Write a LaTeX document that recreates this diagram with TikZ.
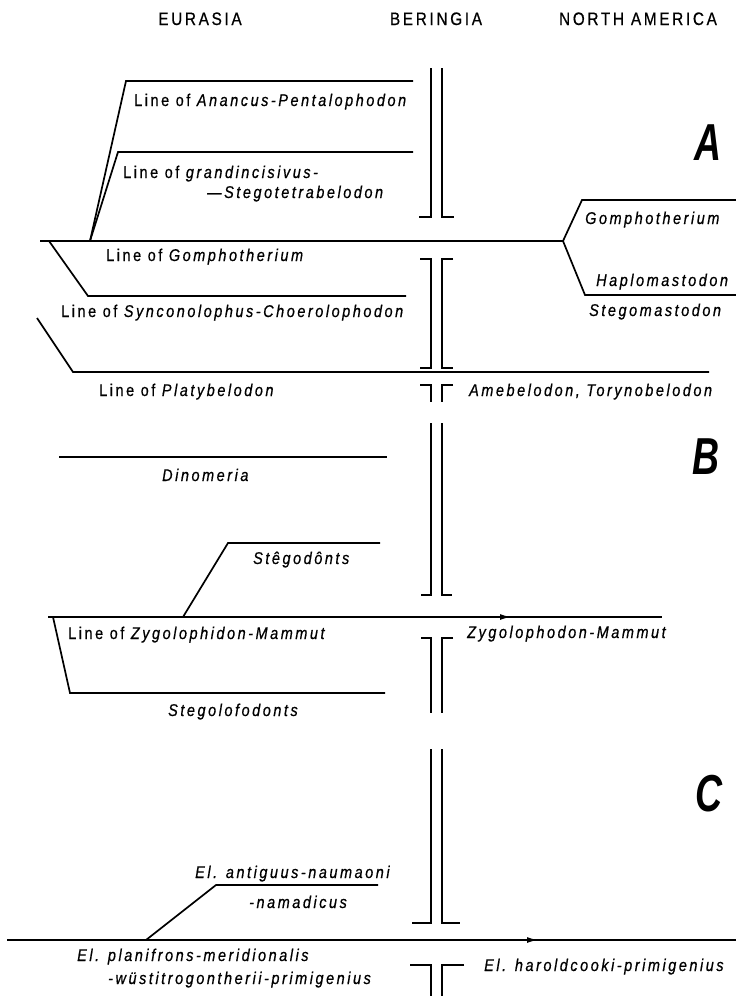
\documentclass[tikz,border=0pt]{standalone}
\usepackage{fontspec}
\setmainfont{Liberation Sans}[FakeStretch=0.85,LetterSpace=15,FakeBold=0.6]
\newfontfamily\bigfont{Liberation Sans}[FakeStretch=0.72]
\usetikzlibrary{arrows.meta}
\begin{document}
\begin{tikzpicture}[x=1pt,y=-1pt,
  ln/.style={line width=1.7pt},
  mig/.style={line width=1.7pt,-{Latex[length=11pt,width=6pt]}},
  txt/.style={inner sep=0pt,anchor=base west,font=\fontsize{17}{20}\selectfont},
  hdr/.style={inner sep=0pt,anchor=base,font=\fontsize{18}{21}\selectfont},
  big/.style={inner sep=0pt,anchor=base,font=\bigfont\fontsize{52}{58}\selectfont\bfseries\itshape}]
\useasboundingbox (0,0) rectangle (736,996);
\fill[white] (0,0) rectangle (736,996);

% headers
\node[hdr] (hE) at (200,25) {EURASIA};
\node[hdr] (hB) at (436,25) {BERINGIA};
\node[hdr] (hN) at (638,25) {NORTH AMERICA};
\node[big] (lA) at (708,160) {A};
\node[big] (lB) at (706,474) {B};
\node[big] (lC) at (709,811) {C};

% ---------- A ----------
\coordinate (g0) at (40,241);
\coordinate (gj) at (90,241);
\coordinate (g1) at (563,241);
\coordinate (an0) at (126,81);  \coordinate (an1) at (413,81);
\coordinate (gr0) at (118,152); \coordinate (gr1) at (413,152);
\draw[ln] (gj) -- (an0) -- (an1);
\draw[ln] (gj) -- (gr0) -- (gr1);
\draw[ln] (g0) -- (g1);
\coordinate (nu0) at (582,200); \coordinate (nu1) at (736,200);
\coordinate (nd0) at (585,295); \coordinate (nd1) at (736,295);
\draw[ln] (g1) -- (nu0) -- (nu1);
\draw[ln] (g1) -- (nd0) -- (nd1);
\coordinate (gs) at (49,241);
\coordinate (gl0) at (88,296); \coordinate (gl1) at (406,296);
\draw[ln] (gs) -- (gl0) -- (gl1);

\node[txt] (tAn) at (134,106) {Line of \textit{Anancus-Pentalophodon}};
\node[txt] (tGr) at (123,178) {Line of \textit{grandincisivus-}};
\node[txt] (tSt) at (207,198) {\textit{—Stegotetrabelodon}};
\node[txt] (tGN) at (585,224) {\textit{Gomphotherium}};
\node[txt] (tGo) at (106,261) {Line of \textit{Gomphotherium}};
\node[txt] (tHa) at (596,286) {\textit{Haplomastodon}};
\node[txt] (tSy) at (61,317) {Line of \textit{Synconolophus-Choerolophodon}};
\node[txt] (tSm) at (589,316) {\textit{Stegomastodon}};

% Synconolophus / Platybelodon
\coordinate (s0) at (37,318); \coordinate (s1) at (73,372); \coordinate (s2) at (709,372);
\draw[ln] (s0) -- (s1) -- (s2);
\node[txt] (tPl) at (99,396) {Line of \textit{Platybelodon}};
\node[txt] (tAm) at (469,396) {\textit{Amebelodon, Torynobelodon}};

% ---------- B ----------
\coordinate (d0) at (59,457); \coordinate (d1) at (387,457);
\draw[ln] (d0) -- (d1);
\node[txt] (tDi) at (162,481) {\textit{Dinomeria}};

\coordinate (z0) at (48,617); \coordinate (za) at (497,617); \coordinate (zm) at (511,617); \coordinate (z1) at (662,617);
\draw[ln] (z0) -- (z1);
\draw[mig] (za) -- (zm);
\coordinate (sd0) at (183,617); \coordinate (sd1) at (228,543); \coordinate (sd2) at (380,543);
\draw[ln] (sd0) -- (sd1) -- (sd2);
\node[txt] (tSd) at (253,564) {\textit{Stêgodônts}};
\coordinate (zl0) at (53,617); \coordinate (zl1) at (70,693); \coordinate (zl2) at (385,693);
\draw[ln] (zl0) -- (zl1) -- (zl2);
\node[txt] (tZy) at (68,639) {Line of \textit{Zygolophidon-Mammut}};
\node[txt] (tZN) at (467,638) {\textit{Zygolophodon-Mammut}};
\node[txt] (tSl) at (168,716) {\textit{Stegolofodonts}};

% ---------- C ----------
\coordinate (e0) at (7,940); \coordinate (ea) at (524,940); \coordinate (em) at (538,940); \coordinate (e1) at (736,940);
\draw[ln] (e0) -- (e1);
\draw[mig] (ea) -- (em);
\coordinate (ea0) at (146,940); \coordinate (ea1) at (216,885); \coordinate (ea2) at (378,885);
\draw[ln] (ea0) -- (ea1) -- (ea2);
\node[txt] (tEa) at (195,878) {\textit{El. antiguus-naumaoni}};
\node[txt] (tEn) at (249,908) {\textit{-namadicus}};
\node[txt] (tEp) at (77,961) {\textit{El. planifrons-meridionalis}};
\node[txt] (tEw) at (108,984) {\textit{-wüstitrogontherii-primigenius}};
\node[txt] (tEh) at (484,971) {\textit{El. haroldcooki-primigenius}};

% ---------- Beringia bridge ----------
% segment 1
\draw[ln] (431,68) -- (431,217) -- (419,217);
\draw[ln] (442,68) -- (442,217) -- (454,217);
% segment 2
\draw[ln] (420,259) -- (431,259) -- (431,368) -- (420,368);
\draw[ln] (453,259) -- (442,259) -- (442,368) -- (453,368);
% segment 3
\draw[ln] (420,385) -- (431,385) -- (431,402);
\draw[ln] (453,385) -- (442,385) -- (442,402);
\draw[ln] (431,423) -- (431,595) -- (421,595);
\draw[ln] (442,423) -- (442,595) -- (452,595);
% segment 4
\draw[ln] (421,638) -- (431,638) -- (431,713);
\draw[ln] (453,638) -- (442,638) -- (442,713);
% segment 5
\draw[ln] (431,749) -- (431,923) -- (412,923);
\draw[ln] (442,749) -- (442,923) -- (460,923);
% segment 6
\draw[ln] (410,965) -- (431,965) -- (431,996);
\draw[ln] (464,965) -- (442,965) -- (442,996);
\end{tikzpicture}
\end{document}
